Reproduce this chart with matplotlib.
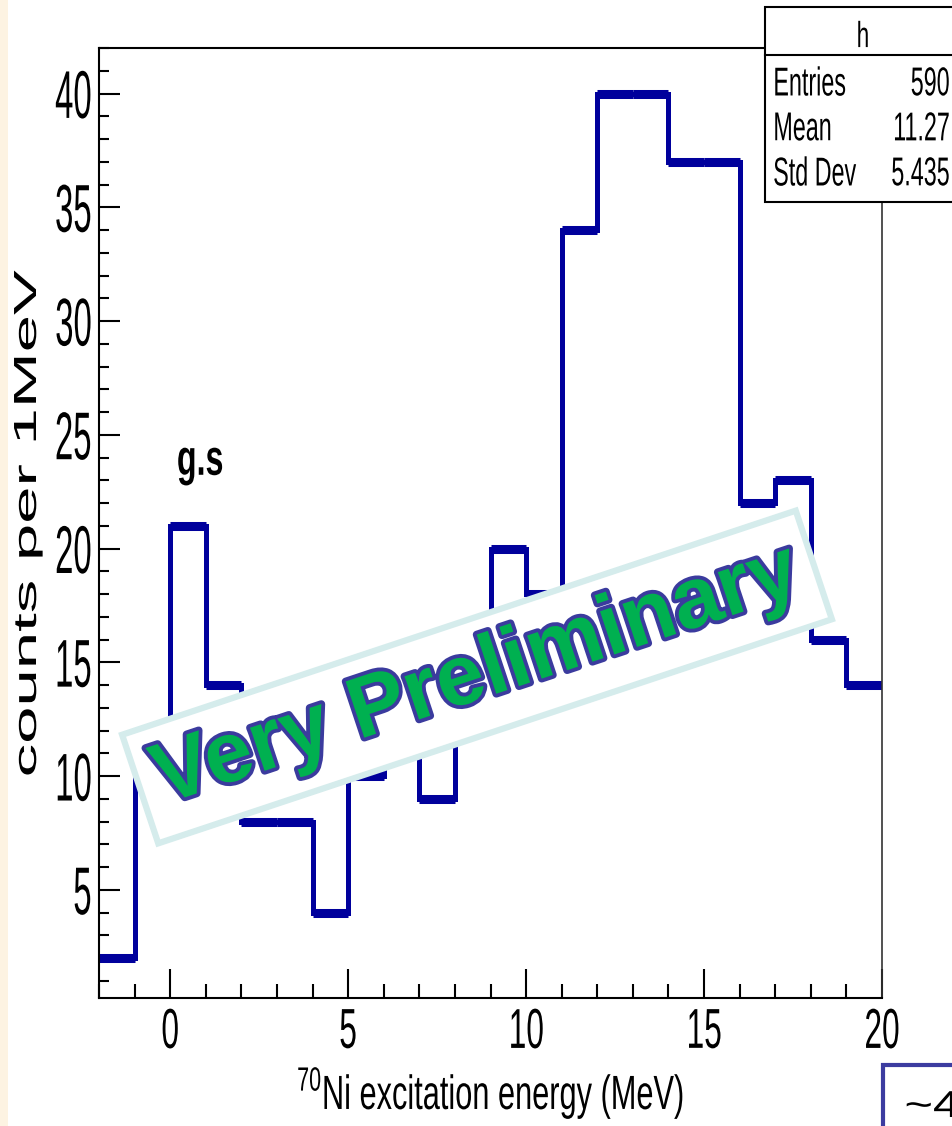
import matplotlib
matplotlib.use('Agg')
import matplotlib.pyplot as plt
import matplotlib.patheffects as pe
from matplotlib.patches import Rectangle
from matplotlib.lines import Line2D
from matplotlib.ticker import MultipleLocator
from matplotlib.transforms import Affine2D
import numpy as np

# 70Ni excitation energy spectrum, 1 MeV bins
bin_edges = np.arange(-2, 21, 1)
counts = [2, 10, 21, 14, 8, 8, 4, 10, 12, 9, 14,
          20, 18, 34, 40, 40, 37, 37, 22, 23, 16, 14]

x_ticks = [0, 5, 10, 15, 20]
y_ticks = [5, 10, 15, 20, 25, 30, 35, 40]

stat_names = ['Entries', 'Mean', 'Std Dev']
stat_values = ['590', '11.27', '5.435']

line_col = '#00009c'

plt.rcParams['font.family'] = ['Liberation Sans', 'DejaVu Sans']
plt.rcParams['mathtext.fontset'] = 'custom'
plt.rcParams['mathtext.rm'] = 'Liberation Sans'


class Stretch(pe.AbstractPathEffect):
    """Scale the glyph outlines in screen units (condensed, tall lettering).

    anchor is the horizontal point of the ink box kept in place
    (0 = left edge, 0.5 = centre, 1 = right edge)."""

    def __init__(self, sx=1.0, sy=1.0, anchor=0.5):
        super().__init__()
        self.sx, self.sy, self.anchor = sx, sy, anchor

    def draw_path(self, renderer, gc, tpath, affine, rgbFace=None):
        if len(tpath.vertices) == 0:
            return
        box = tpath.transformed(affine).get_extents()
        cx = box.x0 + self.anchor * (box.x1 - box.x0)
        cy = (box.y0 + box.y1) / 2
        affine = affine + Affine2D().translate(-cx, -cy).scale(self.sx, self.sy).translate(cx, cy)
        renderer.draw_path(gc, tpath, affine, rgbFace)


W, H = 953, 1126


def px(x, y):
    # pixel position (from top-left) -> figure fraction
    return x / W, 1 - y / H


fig = plt.figure(figsize=(W / 100, H / 100), dpi=100)
fig.add_artist(Rectangle((0, 0), 8 / W, 1, transform=fig.transFigure,
                         fc='#fdf3e2', ec='none', zorder=0))

ax = fig.add_axes([99 / W, 1 - 998 / H, (882 - 99) / W, (998 - 48) / H])

# histogram outline; bin tops drawn heavier
ax.stairs(counts, bin_edges, baseline=None, color=line_col, lw=3.6)
ax.hlines(counts, bin_edges[:-1], bin_edges[1:], color=line_col, lw=6.5,
          capstyle='butt')

ax.set_xlim(-2, 20)
ax.set_ylim(0.25, 42.0)
ax.set_xticks(x_ticks)
ax.set_yticks(y_ticks)
ax.xaxis.set_minor_locator(MultipleLocator(1))
ax.yaxis.set_minor_locator(MultipleLocator(1))

ax.tick_params(axis='both', which='both', direction='in', width=1.5,
               top=False, right=False, labelsize=30)
ax.tick_params(axis='x', which='major', length=21, pad=10)
ax.tick_params(axis='x', which='minor', length=10)
ax.tick_params(axis='y', which='major', length=15, pad=5)
ax.tick_params(axis='y', which='minor', length=7.5)

for lab in ax.get_xticklabels():
    lab.set_path_effects([Stretch(0.76, 1.35)])
for lab in ax.get_yticklabels():
    lab.set_path_effects([Stretch(0.79, 1.62, anchor=1.0)])

for side in ['left', 'bottom', 'top']:
    ax.spines[side].set_linewidth(1.5)
ax.spines['right'].set_linewidth(1.2)
ax.spines['right'].set_color('#333333')

ax.set_xlabel(r'$^{\mathregular{70}}$Ni excitation energy (MeV)', fontsize=27,
              path_effects=[Stretch(0.82, 1.28)])
ax.xaxis.label.set_va('center')
ax.xaxis.set_label_coords(0.5, -(1093 - 998) / 950)

ax.set_ylabel('counts per 1MeV', fontsize=23, path_effects=[Stretch(1, 2.1)])
ax.yaxis.label.set_va('center')
ax.yaxis.set_label_coords(-(99 - 28) / 783, 0.5)

ax.text(0.84, 23.8, 'g.s', fontsize=29, fontweight='bold', ha='center',
        va='center', path_effects=[Stretch(0.8, 1.25)])

# statistics box
fig.add_artist(Rectangle(px(765, 202), 200 / W, (202 - 7) / H,
                         transform=fig.transFigure, fc='white', ec='black', lw=1.5))
fig.add_artist(Line2D([765 / W, 1], [1 - 55 / H] * 2, transform=fig.transFigure,
                      color='black', lw=1.5))
fig.text(*px(863, 36), 'h', fontsize=18, ha='center', va='center',
         path_effects=[Stretch(0.9, 1.45)])
for i, (name, val) in enumerate(zip(stat_names, stat_values)):
    y = 84 + 45 * i
    fig.text(*px(773, y), name, fontsize=20, ha='left', va='center',
             path_effects=[Stretch(0.84, 1.45, anchor=0.0)])
    fig.text(*px(950, y), val, fontsize=20, ha='right', va='center',
             path_effects=[Stretch(0.84, 1.45, anchor=1.0)])

# boxed note in the lower right corner
fig.add_artist(Rectangle(px(883, 1140), 100 / W, (1140 - 1065) / H,
                         transform=fig.transFigure, fc='white', ec='#3c3ca0', lw=3))
fig.text(*px(905, 1107), '~4', fontsize=27, ha='left', va='center',
         path_effects=[Stretch(1.3, 1.0, anchor=0.0)])

# watermark
fig.text(*px(477, 677), 'Very Preliminary', fontweight='bold', fontsize=62,
         color='#00b050', rotation=18.4, rotation_mode='anchor',
         ha='center', va='center', zorder=5,
         path_effects=[pe.withStroke(linewidth=5.5, foreground='#3b3b9e')],
         bbox=dict(boxstyle='square,pad=0.2', fc='white', ec='#d5ecec', lw=4.5))

fig.savefig('out.png', dpi=100)
